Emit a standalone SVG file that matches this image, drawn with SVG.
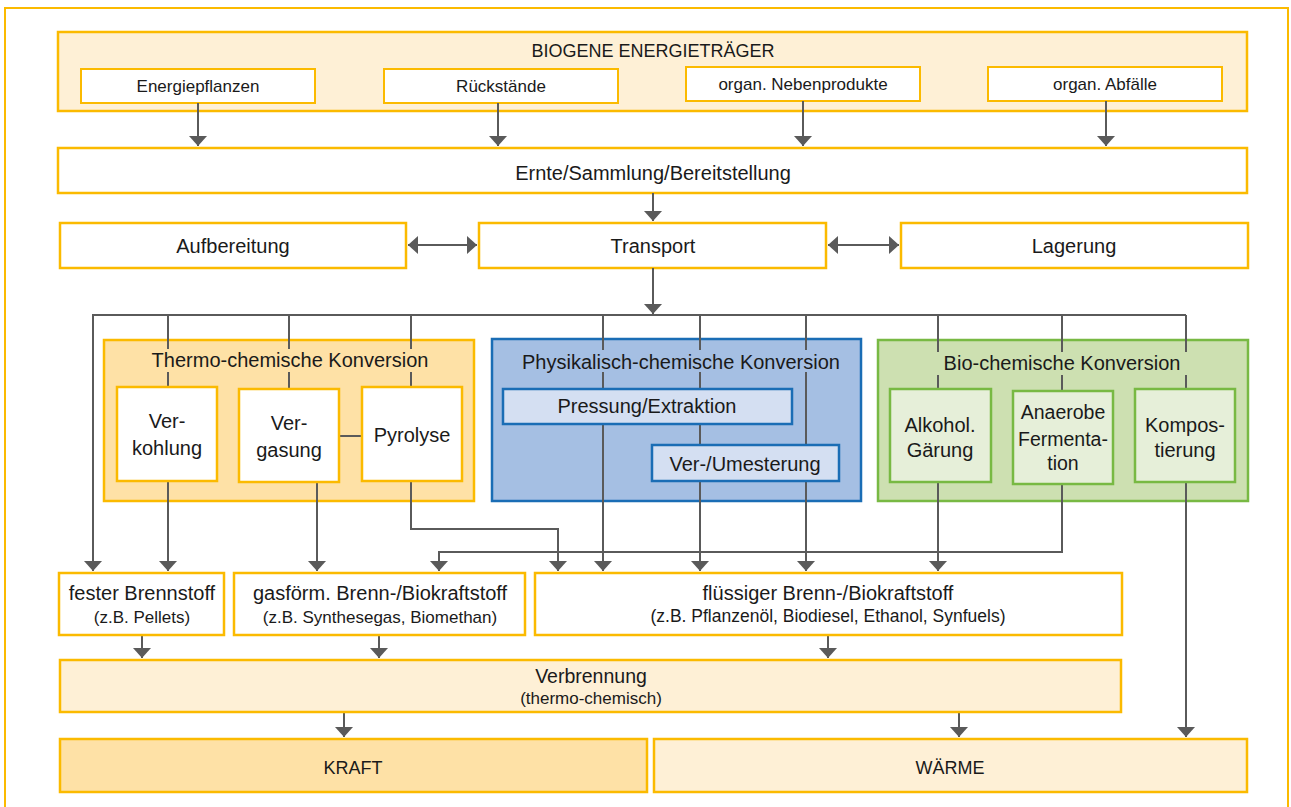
<svg xmlns="http://www.w3.org/2000/svg" width="1291" height="807" viewBox="0 0 1291 807">
  <defs>
    <marker id="ah" viewBox="0 0 10 18" refX="10" refY="9" markerWidth="10" markerHeight="18" markerUnits="userSpaceOnUse" orient="auto-start-reverse">
      <path d="M0,0 L10,9 L0,18 z" fill="#5a5a5a"/>
    </marker>
  </defs>
  <style>
    .t{font-family:"Liberation Sans",Arial,sans-serif;fill:#1a1a1a;text-anchor:middle}
    .f20{font-size:20px}
    .f19{font-size:19.5px}
    .f18{font-size:18px}
    .f17{font-size:17px}
    .box{stroke:#FBBA00;stroke-width:2.5}
    .sub{stroke:#FBBA00;stroke-width:2}
    .cream{fill:#FEF0D6}
    .orange{fill:#FEE1A6}
    .white{fill:#ffffff}
    .blue{fill:#A5BFE3;stroke:#1A6DB5;stroke-width:2.5}
    .blueIn{fill:#D4DFF2;stroke:#1A6DB5;stroke-width:2.5}
    .green{fill:#CDE0B1;stroke:#78B943;stroke-width:2.5}
    .greenIn{fill:#E6EFD9;stroke:#78B943;stroke-width:2.5}
    .conn{fill:none;stroke:#5a5a5a;stroke-width:2}
    .arr{marker-end:url(#ah)}
    .both{marker-start:url(#ah);marker-end:url(#ah)}
  </style>

  <rect x="0" y="0" width="1291" height="807" fill="#ffffff"/>
  <!-- outer frame -->
  <rect x="5" y="8" width="1283" height="806" fill="none" stroke="#FBBA00" stroke-width="2"/>

  <!-- sources -->
  <g id="biogene">
    <rect class="cream box" x="58" y="32" width="1189" height="79"/>
    <text class="t f18" x="653" y="57">BIOGENE ENERGIETRÄGER</text>
  </g>
  <g id="energiepflanzen">
    <rect class="white sub" x="81" y="69" width="234" height="34"/>
    <text class="t f17" x="198" y="92">Energiepflanzen</text>
  </g>
  <g id="rueckstaende">
    <rect class="white sub" x="384" y="69" width="234" height="34"/>
    <text class="t f17" x="501" y="92">Rückstände</text>
  </g>
  <g id="nebenprodukte">
    <rect class="white sub" x="686" y="67" width="234" height="34"/>
    <text class="t f17" x="803" y="90">organ. Nebenprodukte</text>
  </g>
  <g id="abfaelle">
    <rect class="white sub" x="988" y="67" width="234" height="34"/>
    <text class="t f17" x="1105" y="90">organ. Abfälle</text>
  </g>

  <!-- logistics -->
  <g id="ernte">
    <rect class="white box" x="58" y="148" width="1189" height="45"/>
    <text class="t f20" x="653" y="180">Ernte/Sammlung/Bereitstellung</text>
  </g>
  <g id="aufbereitung">
    <rect class="white box" x="60" y="223" width="346" height="45"/>
    <text class="t f20" x="233" y="253">Aufbereitung</text>
  </g>
  <g id="transport">
    <rect class="white box" x="479" y="223" width="347" height="45"/>
    <text class="t f20" x="653" y="253">Transport</text>
  </g>
  <g id="lagerung">
    <rect class="white box" x="901" y="223" width="347" height="45"/>
    <text class="t f20" x="1074" y="253">Lagerung</text>
  </g>

  <!-- conversion panels -->
  <g id="thermo">
    <rect class="orange box" x="104" y="340" width="370" height="161"/>
    <text class="t f20" x="290" y="367">Thermo-chemische Konversion</text>
  </g>
  <g id="physikalisch">
    <rect class="blue" x="492" y="339" width="369" height="162"/>
    <text class="t f20" x="681" y="369">Physikalisch-chemische Konversion</text>
  </g>
  <g id="bio">
    <rect class="green" x="878" y="340" width="370" height="161"/>
    <text class="t f20" x="1062" y="370">Bio-chemische Konversion</text>
  </g>

  <!-- connectors -->
  <g id="connectors" class="conn">
    <path class="arr" d="M198,103 V146"/>
    <path class="arr" d="M498,103 V146"/>
    <path class="arr" d="M803,101 V146"/>
    <path class="arr" d="M1106,101 V146"/>
    <path class="arr" d="M653,193 V221"/>
    <path class="both" d="M408,245 H477"/>
    <path class="both" d="M828,245 H899"/>
    <path class="arr" d="M653,268 V314"/>
    <!-- distribution bus -->
    <path class="arr" d="M1186,315 H93 V571"/>
    <path d="M1186,315 V352 M1186,375 V389"/>
    <path d="M168,315 V349 M168,372 V387"/>
    <path d="M289,315 V349 M289,372 V389"/>
    <path d="M411,315 V349 M411,372 V387"/>
    <path class="arr" d="M603,315 V350 M603,372 V571"/>
    <path class="arr" d="M700,315 V350 M700,372 V571"/>
    <path class="arr" d="M806,315 V350 M806,372 V571"/>
    <path d="M938,315 V352 M938,375 V389"/>
    <path d="M1062,315 V352 M1062,375 V391"/>
    <path d="M339,436 H362"/>
    <!-- conversion outputs -->
    <path class="arr" d="M168,481 V571"/>
    <path class="arr" d="M317,482 V571"/>
    <path class="arr" d="M411,481 V529 H558 V571"/>
    <path class="arr" d="M1062,484 V552 H439 V571"/>
    <path class="arr" d="M938,482 V571"/>
    <path class="arr" d="M1186,482 V737"/>
    <!-- fuels to combustion -->
    <path class="arr" d="M142,635 V658"/>
    <path class="arr" d="M379,635 V658"/>
    <path class="arr" d="M828,635 V658"/>
    <path class="arr" d="M344,712 V737"/>
    <path class="arr" d="M959,712 V737"/>
  </g>

  <!-- thermo-chemical processes -->
  <g id="verkohlung">
    <rect class="white box" x="117" y="387" width="100" height="94"/>
    <text class="t f20" x="167" y="428">Ver-</text>
    <text class="t f20" x="167" y="455">kohlung</text>
  </g>
  <g id="vergasung">
    <rect class="white box" x="239" y="389" width="100" height="93"/>
    <text class="t f20" x="289" y="430">Ver-</text>
    <text class="t f20" x="289" y="457">gasung</text>
  </g>
  <g id="pyrolyse">
    <rect class="white box" x="362" y="387" width="100" height="94"/>
    <text class="t f20" x="412" y="442">Pyrolyse</text>
  </g>

  <!-- physical-chemical processes -->
  <g id="pressung">
    <rect class="blueIn" x="503" y="389" width="289" height="35"/>
    <text class="t f20" x="647" y="413">Pressung/Extraktion</text>
  </g>
  <g id="umesterung">
    <rect class="blueIn" x="652" y="445" width="187" height="36"/>
    <text class="t f20" x="745" y="471">Ver-/Umesterung</text>
  </g>

  <!-- bio-chemical processes -->
  <g id="alkohol">
    <rect class="greenIn" x="890" y="389" width="101" height="93"/>
    <text class="t f20" x="940" y="432">Alkohol.</text>
    <text class="t f20" x="940" y="457">Gärung</text>
  </g>
  <g id="anaerobe">
    <rect class="greenIn" x="1013" y="391" width="100" height="93"/>
    <text class="t f19" x="1063" y="419">Anaerobe</text>
    <text class="t f19" x="1063" y="446">Fermenta-</text>
    <text class="t f19" x="1063" y="470">tion</text>
  </g>
  <g id="kompostierung">
    <rect class="greenIn" x="1135" y="389" width="100" height="93"/>
    <text class="t f20" x="1185" y="432">Kompos-</text>
    <text class="t f20" x="1185" y="457">tierung</text>
  </g>

  <!-- fuels -->
  <g id="fester">
    <rect class="white box" x="59" y="573" width="165" height="62"/>
    <text class="t f20" x="142" y="600">fester Brennstoff</text>
    <text class="t f17" x="142" y="623">(z.B. Pellets)</text>
  </g>
  <g id="gasfoermig">
    <rect class="white box" x="234" y="573" width="291" height="62"/>
    <text class="t f20" x="380" y="600">gasförm. Brenn-/Biokraftstoff</text>
    <text class="t f17" x="380" y="623">(z.B. Synthesegas, Biomethan)</text>
  </g>
  <g id="fluessig">
    <rect class="white box" x="535" y="573" width="587" height="62"/>
    <text class="t f20" x="828" y="600">flüssiger Brenn-/Biokraftstoff</text>
    <text class="t" style="font-size:17.5px" x="828" y="622">(z.B. Pflanzenöl, Biodiesel, Ethanol, Synfuels)</text>
  </g>

  <!-- use -->
  <g id="verbrennung">
    <rect class="cream box" x="60" y="660" width="1061" height="52"/>
    <text class="t f19" x="591" y="683">Verbrennung</text>
    <text class="t f17" x="591" y="704">(thermo-chemisch)</text>
  </g>
  <g id="kraft">
    <rect class="orange box" x="60" y="739" width="587" height="53"/>
    <text class="t f18" x="353" y="774">KRAFT</text>
  </g>
  <g id="waerme">
    <rect class="cream box" x="654" y="739" width="593" height="53"/>
    <text class="t f18" x="950" y="774">WÄRME</text>
  </g>
</svg>
